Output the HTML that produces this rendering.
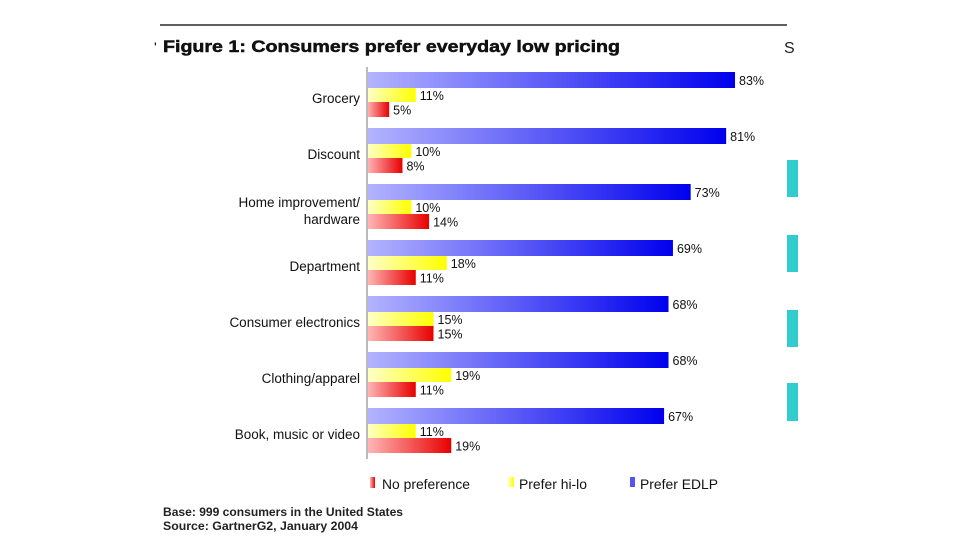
<!DOCTYPE html>
<html><head><meta charset="utf-8"><style>
body{margin:0;background:#fff;width:960px;height:540px;overflow:hidden;font-family:"Liberation Sans",sans-serif}
</style></head><body>
<svg width="960" height="540" xmlns="http://www.w3.org/2000/svg" font-family="Liberation Sans, sans-serif">
<defs>
<linearGradient id="gb" x1="0" x2="1"><stop offset="0" stop-color="#b4b4ff"/><stop offset="1" stop-color="#0000ee"/></linearGradient>
<linearGradient id="gy" x1="0" x2="1"><stop offset="0" stop-color="#ffffc8"/><stop offset="1" stop-color="#ffff00"/></linearGradient>
<linearGradient id="gr" x1="0" x2="1"><stop offset="0" stop-color="#ffb8b8"/><stop offset="1" stop-color="#e80000"/></linearGradient>
</defs>
<line x1="160" y1="25" x2="787" y2="25" stroke="#000" stroke-width="1.2"/>
<text x="154" y="52" font-size="14" fill="#000">'</text>
<text x="163" y="52" font-size="17" font-weight="bold" fill="#111" stroke="#111" stroke-width="0.5" textLength="457" lengthAdjust="spacingAndGlyphs">Figure 1: Consumers prefer everyday low pricing</text>
<text x="784" y="53" font-size="16" fill="#222">S</text>
<rect x="787" y="160" width="11" height="37" fill="#33cccc"/>
<rect x="787" y="235" width="11" height="37" fill="#33cccc"/>
<rect x="787" y="310" width="11" height="37" fill="#33cccc"/>
<rect x="787" y="383" width="11" height="38" fill="#33cccc"/>
<g id="chart"></g>
<line x1="367" y1="67" x2="367" y2="459" stroke="#bbb" stroke-width="2"/>
<g font-size="13.5" fill="#111">
<rect x="370" y="477" width="5" height="11" fill="url(#gr)"/>
<text x="382" y="489" textLength="88" lengthAdjust="spacingAndGlyphs">No preference</text>
<rect x="508" y="477" width="6" height="10" fill="url(#gy)"/>
<text x="519" y="489" textLength="68" lengthAdjust="spacingAndGlyphs">Prefer hi-lo</text>
<rect x="630" y="477" width="5" height="10" fill="#5555ee"/>
<text x="640" y="489" textLength="78" lengthAdjust="spacingAndGlyphs">Prefer EDLP</text>
</g>
<text x="163" y="516" font-size="11.5" font-weight="bold" fill="#222" textLength="240" lengthAdjust="spacingAndGlyphs">Base: 999 consumers in the United States</text>
<text x="163" y="530" font-size="11.5" font-weight="bold" fill="#222" textLength="195" lengthAdjust="spacingAndGlyphs">Source: GartnerG2, January 2004</text>
</svg>
<script>
const categories=[["Grocery"],["Discount"],["Home improvement/","hardware"],["Department"],["Consumer electronics"],["Clothing/apparel"],["Book, music or video"]];
const edlp=[83,81,73,69,68,68,67];
const hilo=[11,10,10,18,15,19,11];
const nopref=[5,8,14,11,15,11,19];
const NS="http://www.w3.org/2000/svg";
const g=document.getElementById('chart');
const x0=367,pxPer=4.434,top0=72,pitch=56;
const xs=v=>v*pxPer;
const yg=i=>top0+i*pitch;
function mk(tag,attrs){const e=document.createElementNS(NS,tag);for(const k in attrs)e.setAttribute(k,attrs[k]);g.appendChild(e);return e;}
categories.forEach((c,i)=>{
  const y=yg(i);
  const series=[[edlp[i],'url(#gb)',0,16,'edlp'],[hilo[i],'url(#gy)',16,14,'hi-lo'],[nopref[i],'url(#gr)',30,15,'no-preference']];
  series.forEach(s=>{
    const r=mk('rect',{x:x0,y:y+s[2],width:xs(s[0]),height:s[3],fill:s[1]});
    
    
    const t=mk('text',{x:x0+xs(s[0])+4,y:y+s[2]+s[3]/2+5,'font-size':'12.5',fill:'#111'});
    t.textContent=s[0]+'%';
    
    
  });
  const t=mk('text',{x:360,'text-anchor':'end','font-size':'13.5',fill:'#111'});
  
  
  if(c.length===1){t.setAttribute('y',y+31);t.textContent=c[0];}
  else{c.forEach((line,j)=>{const ts=document.createElementNS(NS,'tspan');ts.setAttribute('x',360);ts.setAttribute('y',y+23+j*17);ts.textContent=line;t.appendChild(ts);});}
});
</script>
</body></html>
